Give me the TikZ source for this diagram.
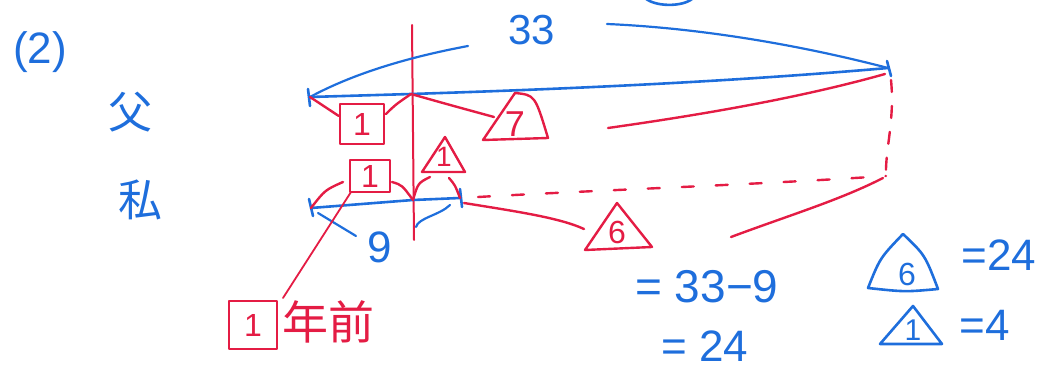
\documentclass[tikz,border=0pt]{standalone}
\usepackage{fontspec}
\setmainfont{Liberation Sans}
\newfontfamily\cjk{Noto Sans CJK JP}
\definecolor{pen}{RGB}{30,110,220}
\definecolor{ink}{RGB}{228,28,68}
\begin{document}
\begin{tikzpicture}[x=1pt,y=-1pt,
  bl/.style={draw=pen,line width=2.6pt,line cap=round,line join=round},
  rd/.style={draw=ink,line width=2.4pt,line cap=round,line join=round},
  rdash/.style={rd,dash pattern=on 12pt off 14pt},
  btxt/.style={text=pen,inner sep=0pt},
  rtxt/.style={text=ink,inner sep=0pt},
  sqbox/.style={rd,minimum width=#1,inner sep=0pt,text=ink,font=\fontsize{32}{34}\selectfont}]
\useasboundingbox (0,0) rectangle (1058,371);
\begin{scope}
\clip (0,0) rectangle (1058,371);
% labels left
\node[btxt,font=\fontsize{44}{46}\selectfont] (lbl) at (40,52) {(2)};
\node[btxt,font=\cjk\fontsize{44}{48}\selectfont] (fu) at (130,112) {父};
\node[btxt,font=\cjk\fontsize{44}{48}\selectfont] (wa) at (140,200) {私};
% coordinates
\coordinate (vt) at (412,25);
\coordinate (vb) at (414,240);
\coordinate (fL) at (310,97);
\coordinate (fM) at (411,94);
\coordinate (fR) at (888,68);
\coordinate (sL) at (311,208);
\coordinate (sM) at (413,200);
\coordinate (sR) at (460,198);
% red vertical
\draw[rd,line width=2pt] (vt) -- (vb);
% top arc (cut off)
\draw[bl] (645,-2) .. controls (655,7) and (682,7) .. (692,-1);
% father line
\draw[bl] (fL) -- (fM) .. controls (600,88) and (750,80) .. (fR);
\draw[bl] (308,89) -- (310,106);
\draw[bl] (887,61) -- (891,76);
% 33
\draw[bl,line width=2.2pt] (fL) .. controls (360,70) and (420,55) .. (468,46);
\draw[bl,line width=2.2pt] (607,24) .. controls (700,28) and (800,45) .. (fR);
\node[btxt,font=\fontsize{42}{44}\selectfont] (n33) at (532,30) {33};
% square 1 (top)
\node[sqbox=44pt,minimum height=40pt] (sq1) at (362,124) {1};
\draw[rd] (fL) -- (sq1.west |- 0,116);
\draw[rd] (386,114) .. controls (395,105) .. (fM);
% triangle 7
\draw[rd] (515,93) .. controls (535,95) .. (548,138) -- (483,140) -- cycle;
\node[rtxt,font=\fontsize{36}{38}\selectfont] (t7) at (515,124) {7};
\draw[rd] (fM) .. controls (450,105) .. (494,117);
\draw[rd] (608,128) .. controls (700,115) and (800,98) .. (885,74);
% right dashed
\draw[rdash] (891,80) .. controls (895,120) and (885,150) .. (886,176);
\draw[rdash,dash pattern=on 12pt off 22pt] (478,197) .. controls (600,190) and (750,185) .. (886,176);
% second row (me)
\draw[bl] (sL) -- (sM) -- (sR);
\draw[bl] (309,199) -- (313,216);
\draw[bl] (460,189) -- (462,207);
% square 1 (second)
\node[sqbox=40pt,minimum height=32pt] (sq2) at (370,176) {1};
\draw[rd] (343,182) .. controls (325,190) .. (sL);
\draw[rd] (392,182) .. controls (402,185) .. (sM);
% triangle 1 red
\draw[rd] (445,137) -- (465,172) -- (422,172) -- cycle;
\node[rtxt,font=\fontsize{28}{30}\selectfont] (t1r) at (444,157) {1};
\draw[rd] (430,177) .. controls (418,183) .. (sM);
\draw[rd] (449,178) .. controls (455,185) .. (sR);
% 9 brace
\draw[bl,line width=2.2pt] (318,213) -- (356,236);
\draw[bl,line width=2.2pt] (416,227) .. controls (418,218) and (440,215) .. (450,205);
\node[btxt,font=\fontsize{44}{46}\selectfont] (n9) at (380,247) {9};
% triangle 6 red
\draw[rd] (464,203) .. controls (520,212) and (560,218) .. (584,229);
\draw[rd] (617,203) -- (652,247) -- (585,250) -- cycle;
\node[rtxt,font=\fontsize{32}{34}\selectfont] (t6r) at (617,232) {6};
\draw[rd] (731,237) .. controls (790,215) and (840,200) .. (883,178);
% 1 year ago
\coordinate (ya) at (283,298);
\draw[rd,line width=1.8pt] (351,192) -- (ya);
\node[sqbox=48pt,minimum height=48pt] (yb) at (253,325) {1};
\node[rtxt,font=\cjk\fontsize{46}{50}\selectfont,anchor=west] (yt) at (282,322) {年前};
% equations
\node[btxt,font=\fontsize{46}{50}\selectfont] (eq1) at (707,287) {= 33−9};
\node[btxt,font=\fontsize{44}{46}\selectfont] (eq2) at (705,346) {= 24};
% blue triangles
\draw[bl] (903,234) .. controls (925,255) .. (938,289) .. controls (905,292) .. (868,288) .. controls (880,258) .. cycle;
\node[btxt,font=\fontsize{32}{34}\selectfont] (t6b) at (907,274) {6};
\node[btxt,font=\fontsize{44}{46}\selectfont] (eq3) at (999,255) {=24};
\draw[bl] (913,306) -- (942,344) -- (880,344) -- cycle;
\node[btxt,font=\fontsize{30}{32}\selectfont] (t1b) at (913,330) {1};
\node[btxt,font=\fontsize{44}{46}\selectfont] (eq4) at (985,325) {=4};
\end{scope}
\end{tikzpicture}
\end{document}
